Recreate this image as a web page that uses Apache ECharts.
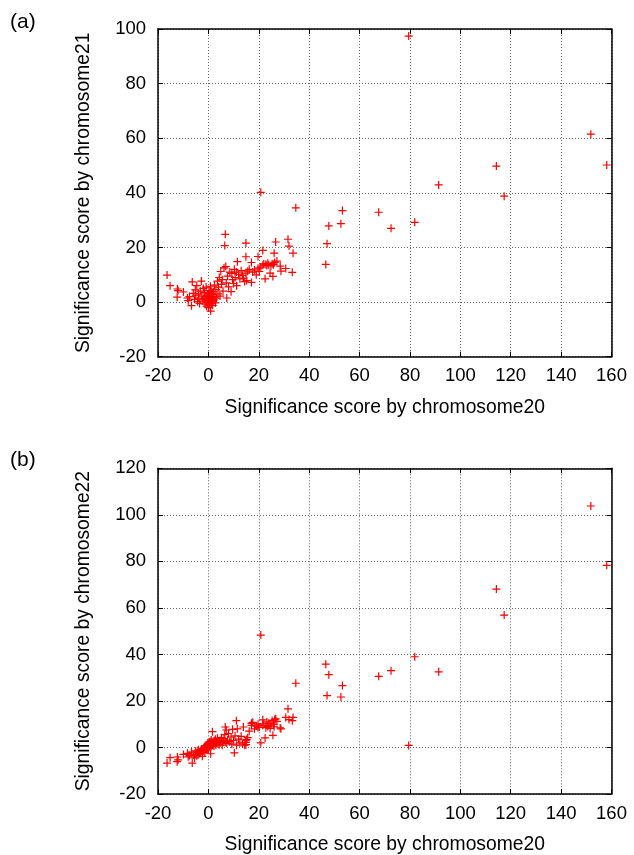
<!DOCTYPE html>
<html>
<head>
<meta charset="utf-8">
<script src="https://cdn.jsdelivr.net/npm/echarts@6/dist/echarts.min.js"></script>
<style>
html,body{margin:0;padding:0;background:#fff;}
#chart{width:634px;height:855px;}
</style>
</head>
<body>
<div id="chart"></div>
<script>
// Significance score by chromosome20 (shared x values)
const chr20 = [
-16.4,-15.2,-12.3,-12.4,-12.0,-9.9,-8.3,-8.0,-7.5,-6.7,-6.4,-6.0,-5.5,-5.2,-5.0,-4.6,-4.3,-4.0,-3.8,-3.5,-3.2,-2.8,-2.6,-2.4,-2.0,
-1.8,-1.6,-1.4,-1.2,-1.0,-0.9,-0.7,-0.5,-0.4,-0.3,-0.2,0.0,0.1,0.2,0.3,0.4,0.5,0.6,0.7,0.8,0.9,1.0,1.1,1.2,1.3,1.4,1.6,1.7,1.8,2.0,2.2,2.4,2.6,2.8,3.0,3.2,
3.6,3.8,4.0,4.3,4.6,4.9,5.2,5.5,5.8,6.2,6.5,6.7,6.9,7.1,7.3,7.6,8.0,8.5,9.0,9.3,9.6,10.0,10.3,10.6,11.1,11.5,11.2,12.0,12.5,13.0,13.5,13.9,14.4,14.9,14.9,14.9,15.2,15.6,
16.2,17.1,17.1,17.6,18.3,19.0,19.7,19.7,20.2,20.8,21.6,21.6,22.0,22.5,22.8,23.2,23.6,24.0,24.5,24.8,25.3,25.6,25.8,26.1,26.3,26.7,27.2,28.5,28.8,30.7,31.6,32.0,33.3,33.6,
20.8,34.7,46.6,47.1,47.8,52.6,53.2,67.6,72.5,79.5,81.9,91.4,114.3,117.4,151.8,158.1
];
// Significance score by chromosome21 (panel a)
const chr21 = [
9.9,6.0,4.8,1.8,4.2,3.7,1.5,0.5,2.0,-1.3,7.4,3.2,1.0,4.5,2.5,6.0,0.2,3.0,1.5,-0.5,4.0,7.7,2.2,0.8,5.0,
1.2,3.5,-0.8,2.0,0.4,5.5,-1.5,1.8,3.0,-0.2,0.9,2.5,-2.0,4.2,0.0,1.5,-1.0,3.3,0.6,5.8,-3.3,2.2,1.0,-0.5,4.0,0.3,2.8,-1.2,1.6,3.8,0.8,6.2,2.0,-0.3,4.6,1.4,
7.7,3.0,5.5,9.0,2.2,11.2,6.5,8.2,4.0,12.5,20.7,24.8,13.0,7.0,1.5,9.5,5.6,11.0,3.8,10.5,8.2,6.8,12.0,9.0,11.0,14.8,6.0,10.2,8.5,11.5,9.8,8.7,7.5,10.6,16.6,21.6,7.9,11.3,
12.0,14.5,7.2,11.0,11.8,10.0,12.4,16.7,11.2,12.8,18.9,13.5,14.0,8.5,13.8,13.4,14.2,13.6,10.6,13.3,14.0,9.4,13.7,17.9,14.5,22.0,15.0,13.2,11.3,12.3,23.0,20.5,10.9,17.9,
40.2,34.5,13.8,21.4,27.9,28.7,33.5,32.9,27.0,97.4,29.2,42.9,49.8,38.8,61.5,50.2
];
// Significance score by chromosome22 (panel b)
const chr22 = [
-6.7,-4.4,-4.1,-6.1,-5.3,-3.0,-2.5,-4.0,-3.5,-2.0,-6.7,-3.2,-4.5,-2.8,-1.5,-3.6,-2.2,-1.0,-3.0,-1.8,-2.5,-0.8,-1.2,-3.8,-0.5,
-1.5,0.2,-2.2,0.8,-0.6,0.0,-1.0,1.2,-0.3,0.5,1.8,0.9,-0.4,1.5,0.3,2.2,1.0,0.6,2.5,1.2,-2.7,0.4,3.2,1.6,0.8,2.0,6.8,1.1,2.6,1.4,0.6,2.9,1.9,3.5,1.0,2.3,
4.0,1.5,2.8,1.2,3.0,2.0,4.2,1.0,2.6,3.8,5.5,8.8,2.2,7.5,1.8,3.2,6.0,2.5,4.5,1.4,7.8,3.0,-2.3,5.0,11.5,8.0,1.0,3.6,2.0,4.8,1.5,8.8,1.0,1.2,3.0,2.2,3.4,4.2,
7.0,10.4,9.5,10.8,8.0,9.2,8.6,10.0,8.8,2.0,11.9,9.5,10.2,4.1,8.5,11.0,9.0,10.5,8.2,9.6,11.5,5.2,10.0,8.9,12.0,12.3,11.2,8.4,8.0,12.9,16.6,12.0,11.5,12.9,
48.3,27.6,35.8,22.3,31.3,21.7,26.6,30.6,33.0,0.9,39.0,32.5,68.1,56.9,103.8,78.3
];
const xTicks = {min:-20, max:160, interval:20};
const yTicksA = {min:-20, max:100, interval:20};
const yTicksB = {min:-20, max:120, interval:20};

const FONT = '"Liberation Sans", Arial, sans-serif';
const plus = 'path://M-0.75,-5 L0.75,-5 L0.75,-0.75 L5,-0.75 L5,0.75 L0.75,0.75 L0.75,5 L-0.75,5 L-0.75,0.75 L-5,0.75 L-5,-0.75 L-0.75,-0.75 Z';

const grids = [
  {left:158, top:29, width:453.5, height:327.7},
  {left:158, top:468.3, width:453.5, height:327.7}
];

function mkX(gi, pos, showLabel, name){
  return {
    type:'value', gridIndex:gi, position:pos, min:xTicks.min, max:xTicks.max, interval:xTicks.interval,
    name: name || '', nameLocation:'middle', nameGap:41,
    nameTextStyle:{fontFamily:FONT, fontSize:19.3, color:'#000'},
    axisLine:{show:true, onZero:false, lineStyle:{color:'#000', width:1.5}},
    axisTick:{show:true, inside:true, length:5, lineStyle:{color:'#000', width:1}},
    axisLabel:{show:showLabel, fontFamily:FONT, fontSize:18.5, color:'#000', margin:10},
    splitLine:{show:pos==='bottom', lineStyle:{color:'#666', width:1, type:[1,2]}}
  };
}
function mkY(gi, pos, ticks, showLabel, name){
  return {
    type:'value', gridIndex:gi, position:pos, min:ticks.min, max:ticks.max, interval:ticks.interval,
    name: name || '', nameLocation:'middle', nameGap:65,
    nameTextStyle:{fontFamily:FONT, fontSize:19.3, color:'#000'},
    axisLine:{show:true, onZero:false, lineStyle:{color:'#000', width:1.5}},
    axisTick:{show:true, inside:true, length:5, lineStyle:{color:'#000', width:1}},
    axisLabel:{show:showLabel, fontFamily:FONT, fontSize:18.5, color:'#000', margin:12},
    splitLine:{show:pos==='left', lineStyle:{color:'#666', width:1, type:[1,2]}}
  };
}

const dataA = chr20.map((x,i)=>[x, chr21[i]]);
const dataB = chr20.map((x,i)=>[x, chr22[i]]);

const chart = echarts.init(document.getElementById('chart'), null, {renderer:'canvas'});
chart.setOption({
  backgroundColor:'#fff',
  animation:false,
  grid: grids,
  xAxis:[
    mkX(0,'bottom',true,'Significance score by chromosome20'),
    mkX(0,'top',false),
    mkX(1,'bottom',true,'Significance score by chromosome20'),
    mkX(1,'top',false)
  ],
  yAxis:[
    mkY(0,'left',yTicksA,true,'Significance score by chromosome21'),
    mkY(0,'right',yTicksA,false),
    mkY(1,'left',yTicksB,true,'Significance score by chromosome22'),
    mkY(1,'right',yTicksB,false)
  ],
  graphic:[
    {type:'text', left:10, top:12, style:{text:'(a)', font:'21px '+FONT, fill:'#000'}},
    {type:'text', left:10, top:450, style:{text:'(b)', font:'21px '+FONT, fill:'#000'}}
  ],
  series:[
    {type:'scatter', xAxisIndex:0, yAxisIndex:0, data:dataA, symbol:plus, symbolSize:8,
     itemStyle:{color:'#ff0000', opacity:1}},
    {type:'scatter', xAxisIndex:2, yAxisIndex:2, data:dataB, symbol:plus, symbolSize:8,
     itemStyle:{color:'#ff0000', opacity:1}}
  ]
});
</script>
</body>
</html>
